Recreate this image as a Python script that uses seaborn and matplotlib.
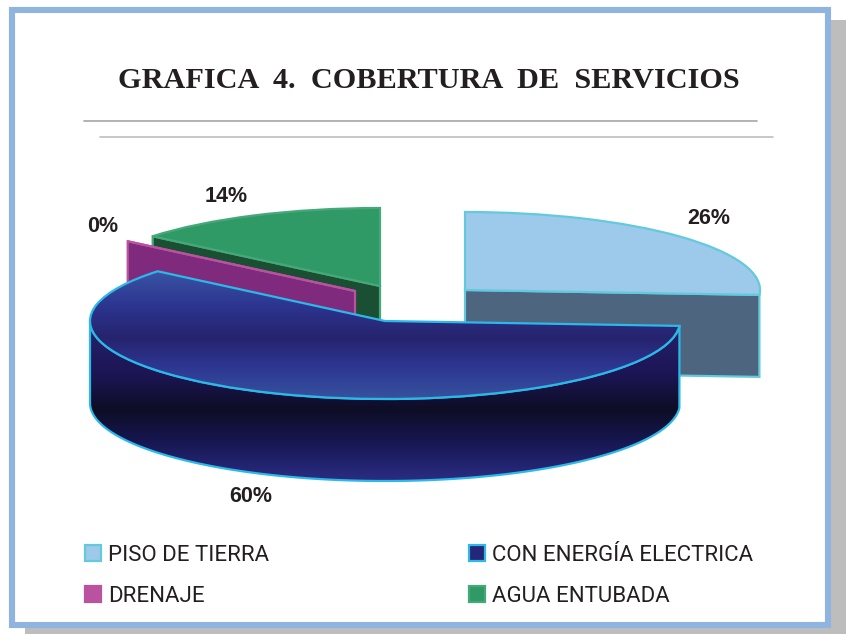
import numpy as np
import seaborn as sns
import matplotlib
matplotlib.use("Agg")
import matplotlib.pyplot as plt
from matplotlib.patches import Polygon, Patch, Rectangle
from matplotlib.colors import LinearSegmentedColormap

# ---- data -------------------------------------------------------------
categories = ["PISO DE TIERRA", "CON ENERGÍA ELECTRICA", "DRENAJE", "AGUA ENTUBADA"]
values = [26, 60, 0, 14]
title_text = "GRAFICA  4.  COBERTURA  DE  SERVICIOS"

# ---- style ------------------------------------------------------------
top_colors = ["#9dc9ea", "#2c3590", "#b9539f", "#2f9a66"]
wall_colors = ["#4d657f", "#141446", "#7f2a7d", "#1a4f33"]
edge_colors = ["#63c9dc", "#2cb9e8", "#b9539f", "#45a878"]
centers_px = [(465, 290), (385, 321), (355, 291), (380, 286)]
label_px = [(709, 219), (251, 497), (103, 227), (226, 197)]
RX, RY, DEPTH = 295.0, 78.0, 82.0
W, H = 846, 634

sns.set_theme(style="white")
plt.rcParams["font.family"] = ["Liberation Sans", "DejaVu Sans"]

fig = plt.figure(figsize=(W / 100, H / 100), dpi=100)
bg = fig.add_axes([0, 0, 1, 1])
bg.set_xlim(0, W)
bg.set_ylim(H, 0)
bg.axis("off")

# shadow + frame
bg.add_patch(Rectangle((25, 20), W - 25, H - 20, fc="#bdbdbd", ec="none"))
bg.add_patch(Rectangle((12, 10), 816, 615, fc="white", ec="#8fb4e0", lw=4.4))
bg.plot([84, 757], [121, 121], color="#a5a5a5", lw=1.2)
bg.plot([100, 773], [137, 137], color="#bdbdbd", lw=1.2)
bg.text(429, 81, title_text, ha="center", va="center", fontsize=21.8,
        fontweight="bold", family="Liberation Serif", color="#231f20")

# pie axes: one data unit is the ellipse radius on each axis
ax = fig.add_axes([0, 0, 1, 1], facecolor="none")
def ux(px): return (px - 385) / RX
def uy(py): return (321 - py) / RY
def ray(theta): return np.cos(np.radians(theta)), np.sin(np.radians(theta))

wedges, _ = ax.pie(values, colors=top_colors, startangle=90, counterclock=False,
                   radius=1, wedgeprops=dict(linewidth=1.6))
depth = DEPTH / RY

order_z = {3: (2, 3), 2: (4, 5), 0: (6, 7), 1: (8, 9)}
for i, w in enumerate(wedges):
    cx, cy = ux(centers_px[i][0]), uy(centers_px[i][1])
    w.set_center((cx, cy))
    w.set_edgecolor(edge_colors[i])
    zwall, ztop = order_z[i]
    w.set_zorder(ztop)
    th = w.theta2 if i == 3 else w.theta1
    if i != 1:
        dx, dy = ray(th)
        ax.add_patch(Polygon([(cx, cy), (cx + dx, cy + dy),
                              (cx + dx, cy + dy - depth), (cx, cy - depth)],
                             closed=True, fc=wall_colors[i], ec=edge_colors[i],
                             lw=1.6, zorder=zwall))

# big slice: front curved wall with vertical gradient, top with gradient
blue = wedges[1]
cx, cy = blue.center
t = np.radians(np.linspace(-180, blue.theta2 - 360 if blue.theta2 > 180 else blue.theta2, 160))
upper = np.c_[cx + np.cos(t), cy + np.sin(t)]
lower = (upper - [0, depth])[::-1]
wall = Polygon(np.r_[upper, lower], closed=True, fc="none", ec="none", zorder=8)
ax.add_patch(wall)
ax.add_patch(Polygon(np.r_[upper, lower], closed=True, fc="none", ec=edge_colors[1], lw=1.6, zorder=8.5))

def gradient(stops, colors, zorder, clip):
    lo, hi = stops[0], stops[-1]
    pos = [(s - lo) / (hi - lo) for s in stops]
    cmap = LinearSegmentedColormap.from_list("g", list(zip(pos, colors)))
    im = ax.imshow(np.linspace(0, 1, 256).reshape(-1, 1), cmap=cmap, aspect="auto",
                   extent=(ux(0), ux(W), uy(hi), uy(lo)), zorder=zorder, origin="upper")
    im.set_clip_path(clip)

gradient([315, 375, 410, 440, 482], ["#27266f", "#1c1555", "#0d0d25", "#16164f", "#2b2d85"], 7.9, wall)
gradient([270, 305, 338, 365, 400], ["#3a55a5", "#2c3590", "#26236e", "#2c3590", "#37539f"], 8.8, blue)
blue.set_facecolor("none")
blue.set_zorder(9)

ax.set_aspect("auto")
ax.set_xlim(ux(0), ux(W))
ax.set_ylim(uy(H), uy(0))
ax.axis("off")

# percentage labels
for v, (lx, ly) in zip(values, label_px):
    ax.text(ux(lx), uy(ly), f"{v}%", ha="center", va="center", fontsize=15.5,
            fontweight="bold", color="#231f20", zorder=12)

# legend
handles = [Patch(fc=top_colors[k], ec=edge_colors[k], lw=1.6) for k in range(4)]
handles[1] = Patch(fc="#25267a", ec=edge_colors[1], lw=1.6)
order = [0, 2, 1, 3]
fs = 16
leg = ax.legend([handles[k] for k in order], [categories[k] for k in order], ncols=2,
                loc="upper left", bbox_to_anchor=(85 / W, 1 - 545 / H),
                bbox_transform=fig.transFigure, frameon=False,
                prop=dict(family="Roboto", size=fs),
                handlelength=0.72, handleheight=0.72, handletextpad=0.33,
                columnspacing=8.96, labelspacing=0.88, borderpad=0, borderaxespad=0)
for txt in leg.get_texts():
    txt.set_color("#231f20")
leg.set_zorder(20)

fig.savefig("out.png", dpi=100)
